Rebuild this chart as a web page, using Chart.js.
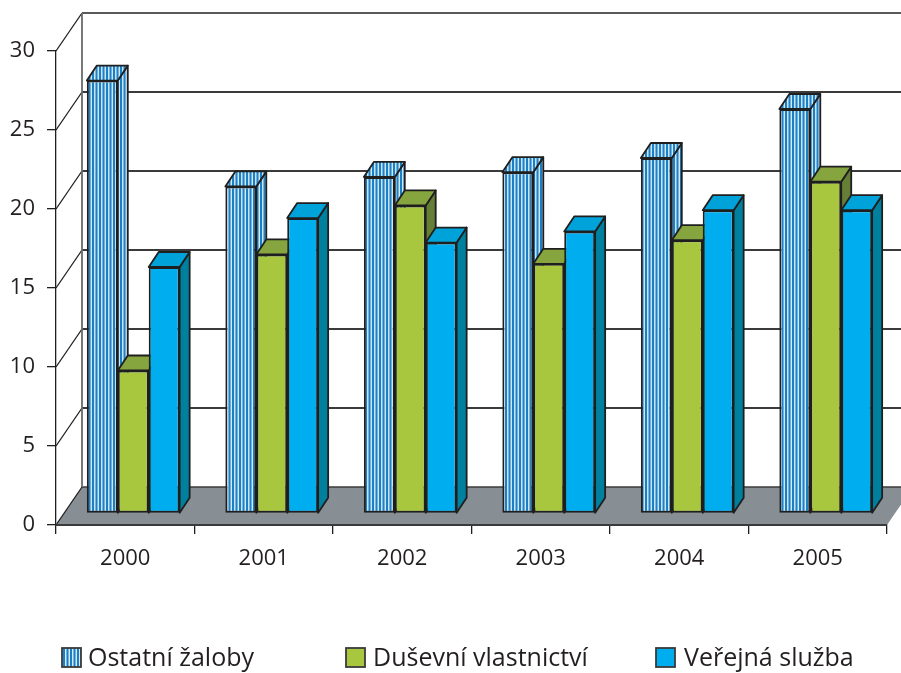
<!DOCTYPE html>
<html>
<head>
<meta charset="utf-8">
<style>
  html, body { margin: 0; padding: 0; background: #fff; }
  canvas { display: block; }
</style>
<script src="https://cdn.jsdelivr.net/npm/chart.js@4"></script>
</head>
<body>
<canvas id="chart" width="901" height="673"></canvas>
<script>
const years = ["2000", "2001", "2002", "2003", "2004", "2005"];
const ostatniZaloby = [27.4, 20.7, 21.3, 21.6, 22.5, 25.6];
const dusevniVlastnictvi = [9.05, 16.4, 19.5, 15.8, 17.3, 21.0];
const verejnaSluzba = [15.6, 18.7, 17.15, 17.85, 19.2, 19.2];
const yTicks = [0, 5, 10, 15, 20, 25, 30];

const FONT = '"Open Sans", sans-serif';
const INK = "#231f20";
const LINE = "#1f1f1f";

// fake 3D: wall depth, where the bars stand on the floor, and bar depth
const wall = {dx: 26, dy: -38};
const base = {dx: 8, dy: -11.5};
const depth = {dx: 10, dy: -15};

function hatch(dark, light) {
    const c = document.createElement("canvas");
    c.width = 7;
    c.height = 7;
    const g = c.getContext("2d");
    g.fillStyle = light;
    g.fillRect(0, 0, 7, 7);
    g.fillStyle = dark;
    g.fillRect(0, 0, 2, 7);
    g.fillRect(3.5, 0, 2, 7);
    return g.createPattern(c, "repeat");
}

const stripes = hatch("#1b7fc4", "#d3eaf8");

const looks = [
    {top: stripes, side: stripes, swatchX: 62, textX: 88},
    {top: "#87a53e", side: "#657f37", swatchX: 346, textX: 373},
    {top: "#00a3d9", side: "#00809f", swatchX: 656, textX: 684}
];

function face(ctx, pts, fill) {
    ctx.beginPath();
    pts.forEach((p, i) => i ? ctx.lineTo(p[0], p[1]) : ctx.moveTo(p[0], p[1]));
    ctx.closePath();
    ctx.fillStyle = fill;
    ctx.fill();
    ctx.stroke();
}

const room = {
    id: "room",
    beforeDatasetsDraw(chart) {
        const {ctx, chartArea: a, scales} = chart;
        const zero = scales.y.getPixelForValue(0);
        ctx.save();

        // floor
        ctx.strokeStyle = "#3a3a3a";
        ctx.lineWidth = 1.5;
        ctx.fillStyle = "#878e94";
        ctx.beginPath();
        ctx.moveTo(a.left, zero);
        ctx.lineTo(a.left + wall.dx, zero + wall.dy);
        ctx.lineTo(a.right + wall.dx, zero + wall.dy);
        ctx.lineTo(a.right, zero);
        ctx.closePath();
        ctx.fill();
        ctx.beginPath();
        ctx.moveTo(a.left + wall.dx, zero + wall.dy);
        ctx.lineTo(a.right + wall.dx, zero + wall.dy);
        ctx.stroke();

        // back wall and side wall lines for every tick
        yTicks.forEach(v => {
            const y = scales.y.getPixelForValue(v);
            ctx.strokeStyle = LINE;
            ctx.lineWidth = 1.3;
            ctx.beginPath();
            ctx.moveTo(a.left, y);
            ctx.lineTo(a.left + wall.dx, y + wall.dy);
            ctx.stroke();
            if (v > 0) {
                ctx.strokeStyle = v === 30 ? "#5a5a5a" : "#3a3a3a";
                ctx.lineWidth = 1.8;
                ctx.beginPath();
                ctx.moveTo(a.left + wall.dx, y + wall.dy);
                ctx.lineTo(a.right + wall.dx, y + wall.dy);
                ctx.stroke();
            }
        });
        ctx.strokeStyle = "#6a6a6a";
        ctx.lineWidth = 1.8;
        ctx.beginPath();
        ctx.moveTo(a.left + wall.dx, a.top + wall.dy);
        ctx.lineTo(a.left + wall.dx, zero + wall.dy);
        ctx.stroke();

        // bars stand further back than the front of the floor
        ctx.translate(base.dx, base.dy);
        ctx.strokeStyle = LINE;
        ctx.lineWidth = 1.8;
        ctx.lineJoin = "round";
        years.forEach((_, i) => {
            chart.data.datasets.forEach((ds, d) => {
                const bar = chart.getDatasetMeta(d).data[i];
                const half = bar.width / 2;
                const l = bar.x - half, r = bar.x + half, t = bar.y, b = bar.base;
                face(ctx, [[r, t], [r + depth.dx, t + depth.dy], [r + depth.dx, b + depth.dy], [r, b]], looks[d].side);
                face(ctx, [[l, t], [l + depth.dx, t + depth.dy], [r + depth.dx, t + depth.dy], [r, t]], looks[d].top);
            });
        });
    },
    afterDatasetsDraw(chart) {
        chart.ctx.restore();
    },
    afterDraw(chart) {
        const {ctx, scales} = chart;
        const zero = scales.y.getPixelForValue(0);
        ctx.save();
        // floor front edge on top of the axis line
        ctx.strokeStyle = "#3a3a3a";
        ctx.lineWidth = 2;
        ctx.beginPath();
        ctx.moveTo(chart.chartArea.left, zero);
        ctx.lineTo(chart.chartArea.right, zero);
        ctx.stroke();

        // legend, spaced as in the print
        ctx.font = "25px " + FONT;
        ctx.textBaseline = "middle";
        chart.data.datasets.forEach((ds, d) => {
            ctx.fillStyle = ds.backgroundColor;
            ctx.strokeStyle = "#3a3a3a";
            ctx.lineWidth = 1.8;
            ctx.fillRect(looks[d].swatchX, 648, 19, 19);
            ctx.strokeRect(looks[d].swatchX, 648, 19, 19);
            ctx.fillStyle = INK;
            ctx.fillText(ds.label, looks[d].textX, 659);
        });
        ctx.restore();
    }
};

new Chart(document.getElementById("chart"), {
    type: "bar",
    data: {
        labels: years,
        datasets: [
            {label: "Ostatní žaloby", data: ostatniZaloby, backgroundColor: stripes},
            {label: "Duševní vlastnictví", data: dusevniVlastnictvi, backgroundColor: "#a8c73f"},
            {label: "Veřejná služba", data: verejnaSluzba, backgroundColor: "#00aeef"}
        ].map(ds => ({...ds, borderColor: LINE, borderWidth: 2, borderSkipped: false, clip: false,
            categoryPercentage: 0.67, barPercentage: 1}))
    },
    options: {
        responsive: false,
        animation: false,
        layout: {padding: {top: 51, right: 14, left: 0, bottom: 0}},
        plugins: {legend: {display: false}, tooltip: {enabled: false}},
        scales: {
            x: {
                grid: {drawOnChartArea: false, color: LINE, lineWidth: 1.3, tickLength: 9},
                border: {color: "#3a3a3a", width: 2},
                ticks: {color: INK, font: {family: FONT, size: 22}, padding: 12, maxRotation: 0},
                afterFit(scale) { scale.height = 148; }
            },
            y: {
                min: 0,
                max: 30,
                afterBuildTicks(scale) { scale.ticks = yTicks.map(value => ({value})); },
                grid: {drawOnChartArea: false, color: LINE, lineWidth: 1.3, tickLength: 9},
                border: {color: LINE, width: 1.3},
                ticks: {color: INK, font: {family: FONT, size: 22}, padding: 12},
                afterFit(scale) { scale.width = 56; }
            }
        }
    },
    plugins: [room]
});
</script>
</body>
</html>
